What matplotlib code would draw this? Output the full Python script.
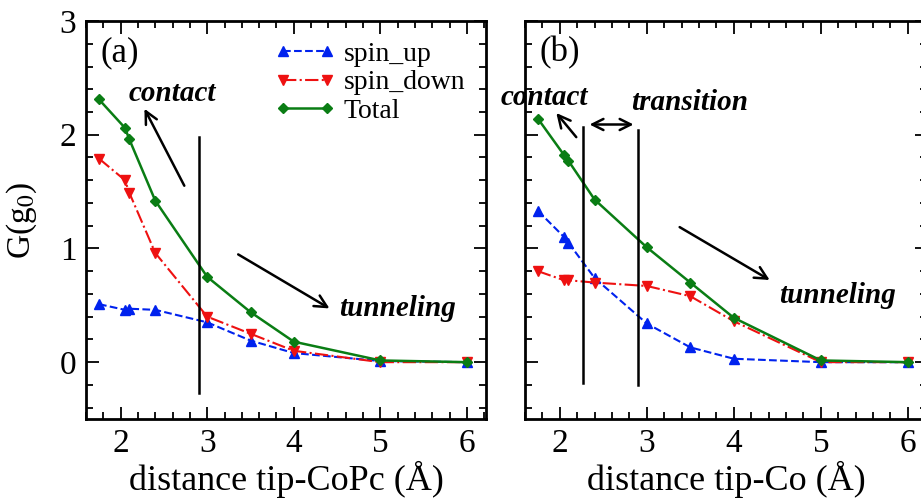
import numpy as np
import matplotlib
matplotlib.use('Agg')
import matplotlib.pyplot as plt
from matplotlib.ticker import MultipleLocator

plt.rcParams['font.family'] = ['Liberation Serif', 'DejaVu Serif']
plt.rcParams['mathtext.fontset'] = 'stix'

# distancias (Angstrom)
dist = [1.75, 2.05, 2.1, 2.4, 3.0, 3.5, 4.0, 5.0, 6.0]

# panel (a): tip-CoPc
up_a = [0.51, 0.46, 0.47, 0.46, 0.35, 0.19, 0.08, 0.01, 0.0]
down_a = [1.79, 1.60, 1.49, 0.96, 0.40, 0.25, 0.10, 0.0, 0.0]
tot_a = [2.31, 2.06, 1.96, 1.42, 0.75, 0.44, 0.18, 0.015, 0.0]

# panel (b): tip-Co
up_b = [1.33, 1.10, 1.05, 0.74, 0.34, 0.13, 0.03, 0.0, 0.0]
down_b = [0.80, 0.72, 0.72, 0.70, 0.67, 0.58, 0.36, 0.0, 0.0]
tot_b = [2.14, 1.82, 1.77, 1.43, 1.01, 0.70, 0.39, 0.015, 0.0]

xlabels = ['distance tip-CoPc (Å)', 'distance tip-Co (Å)']
blue = '#0022ee'
red = '#ee1111'
green = '#0a7d14'

fig = plt.figure(figsize=(9.21, 4.98), dpi=100)
ax1 = fig.add_axes([0.0934, 0.1586, 0.4343, 0.7992])
ax2 = fig.add_axes([0.570, 0.1586, 0.4365, 0.7992])


def dibujar(ax, up, down, tot):
    ax.plot(dist, up, '--', color=blue, marker='^', ms=7, lw=1.5, label='spin_up')
    ax.plot(dist, down, '-.', color=red, marker='v', ms=7, lw=1.5, label='spin_down')
    ax.plot(dist, tot, '-', color=green, marker='D', ms=5, lw=1.8, label='Total')
    ax.set_xlim(1.6, 6.22)
    ax.set_ylim(-0.5, 3)
    ax.xaxis.set_major_locator(MultipleLocator(1))
    ax.xaxis.set_minor_locator(MultipleLocator(0.2))
    ax.yaxis.set_major_locator(MultipleLocator(1))
    ax.yaxis.set_minor_locator(MultipleLocator(0.2))
    ax.tick_params(which='both', direction='in', top=True, right=True,
                   width=1.3, labelsize=24, pad=7)
    ax.tick_params(which='major', length=9)
    ax.tick_params(which='minor', length=5)
    for s in ax.spines.values():
        s.set_linewidth(2)


dibujar(ax1, up_a, down_a, tot_a)
dibujar(ax2, up_b, down_b, tot_b)

ax1.set_xlabel(xlabels[0], fontsize=26, labelpad=1)
ax2.set_xlabel(xlabels[1], fontsize=26, labelpad=1)
ax1.set_ylabel('G(g$_0$)', fontsize=24)
ax1.yaxis.set_label_coords(-0.118, 0.5)
ax2.set_yticklabels([])

ax1.legend(loc='upper right', frameon=False, fontsize=20, numpoints=2,
           handlelength=2.2, handletextpad=0.3, labelspacing=0.1,
           borderaxespad=0.2, bbox_to_anchor=(0.99, 0.99))

txt = dict(fontsize=21, fontweight='bold', fontstyle='italic')
arr = dict(arrowstyle='->', color='black', lw=1.8, mutation_scale=22)

# panel (a)
ax1.text(1.77, 2.72, '(a)', fontsize=25, va='center')
ax1.plot([2.9, 2.9], [-0.27, 1.98], color='black', lw=1.8)
ax1.annotate('', xy=(2.26, 2.25), xytext=(2.75, 1.53), arrowprops=arr)
ax1.text(2.6, 2.36, 'contact', ha='center', va='center', **txt)
ax1.annotate('', xy=(4.44, 0.46), xytext=(3.33, 0.96), arrowprops=arr)
ax1.text(4.52, 0.47, 'tunneling', ha='left', va='center', **txt)

# panel (b)
ax2.text(1.77, 2.72, '(b)', fontsize=25, va='center')
ax2.plot([2.27, 2.27], [-0.18, 2.07], color='black', lw=1.8)
ax2.plot([2.9, 2.9], [-0.2, 2.04], color='black', lw=1.8)
ax2.annotate('', xy=(2.31, 2.09), xytext=(2.88, 2.09),
             arrowprops=dict(arrowstyle='<->', color='black', lw=1.8, mutation_scale=20))
ax2.annotate('', xy=(1.94, 2.21), xytext=(2.21, 1.96), arrowprops=arr)
ax2.text(1.82, 2.33, 'contact', ha='center', va='center', **txt)
ax2.text(3.49, 2.28, 'transition', ha='center', va='center', **txt)
ax2.annotate('', xy=(4.44, 0.71), xytext=(3.35, 1.20), arrowprops=arr)
ax2.text(4.52, 0.59, 'tunneling', ha='left', va='center', **txt)

plt.savefig('out.png', dpi=100)
